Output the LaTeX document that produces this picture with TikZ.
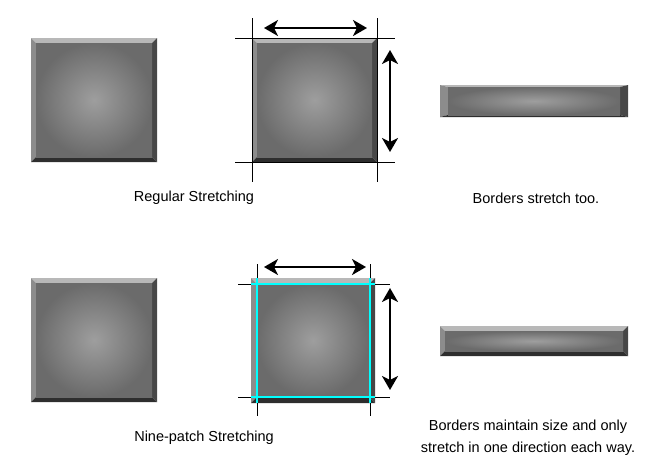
\documentclass[tikz,border=0pt]{standalone}
\usepackage{fontspec}
\setmainfont{Liberation Sans}
\usetikzlibrary{arrows.meta}
\definecolor{aqua}{RGB}{0,255,255}
\newcommand\bevbox[6]{%
 \fill[bvtop] (#1,#2) -- (#3,#2) -- (#3-#5,#2+#6) -- (#1+#5,#2+#6) -- cycle;
 \fill[bvleft] (#1,#2) -- (#1+#5,#2+#6) -- (#1+#5,#4-#6) -- (#1,#4) -- cycle;
 \fill[bvright] (#3,#2) -- (#3-#5,#2+#6) -- (#3-#5,#4-#6) -- (#3,#4) -- cycle;
 \fill[bvbot] (#1,#4) -- (#1+#5,#4-#6) -- (#3-#5,#4-#6) -- (#3,#4) -- cycle;
 \shade[inner color=black!38, outer color=black!58] (#1+#5,#2+#6) rectangle (#3-#5,#4-#6);
}
\tikzset{
 bvtop/.style={fill=black!28},
 bvleft/.style={fill=black!45},
 bvright/.style={fill=black!72},
 bvbot/.style={fill=black!82},
 guide/.style={black, line width=0.9pt},
 dim/.style={black, line width=2.6pt, {Stealth[length=14pt,width=16pt,inset=4pt]}-{Stealth[length=14pt,width=16pt,inset=4pt]}},
 cyanl/.style={aqua, line width=1.2pt},
 lbl/.style={font=\fontsize{14.5}{22}\selectfont, align=center},
}
\begin{document}
\begin{tikzpicture}[x=1pt,y=-1pt]
\useasboundingbox (0,0) rectangle (662,472);
% top row
\bevbox{31}{38}{157}{162}{5}{5}
\bevbox{252}{38}{377}{162}{5}{5}
\bevbox{440}{85}{628}{117}{8}{2}
\draw[guide] (252,18) -- (252,182);
\draw[guide] (377,18) -- (377,182);
\draw[guide] (235,38) -- (395,38);
\draw[guide] (235,162) -- (395,162);
\coordinate (ha) at (264,28); \coordinate (hb) at (367,28);
\coordinate (va) at (390,50); \coordinate (vb) at (390,152);
\draw[dim] (ha) -- (hb);
\draw[dim] (va) -- (vb);
\node[lbl] (l1) at (194,198) {Regular Stretching};
\node[lbl] (l2) at (536,198) {Borders stretch too.};
% bottom row
\bevbox{31}{278}{157}{402}{5}{5}
\bevbox{251}{278}{375}{403}{6}{6}
\bevbox{440}{326}{628}{356}{5}{5}
\draw[cyanl] (257,278) -- (257,403);
\draw[cyanl] (370,278) -- (370,403);
\draw[cyanl] (251,284) -- (375,284);
\draw[cyanl] (251,397) -- (375,397);
\draw[guide] (257,264) -- (257,278) (257,403) -- (257,416);
\draw[guide] (370,264) -- (370,278) (370,403) -- (370,416);
\draw[guide] (238,284) -- (251,284) (375,284) -- (390,284);
\draw[guide] (238,397) -- (251,397) (375,397) -- (390,397);
\coordinate (hc) at (264,267); \coordinate (hd) at (366,267);
\coordinate (vc) at (390,288); \coordinate (vd) at (390,390);
\draw[dim] (hc) -- (hd);
\draw[dim] (vc) -- (vd);
\node[lbl] (l3) at (204,438) {Nine-patch Stretching};
\node[lbl] (l4) at (528,438) {Borders maintain size and only\\stretch in one direction each way.};
\end{tikzpicture}
\end{document}
